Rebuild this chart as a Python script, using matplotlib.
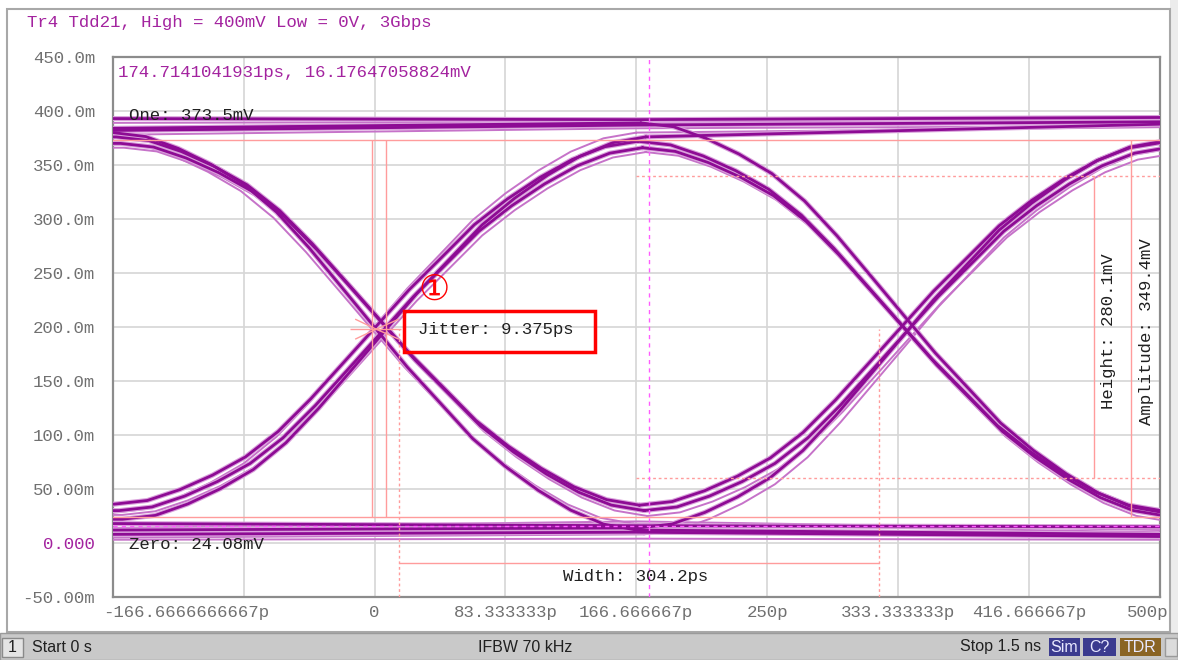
import matplotlib.pyplot as plt
import matplotlib.patches as mpatches
import matplotlib.transforms as mtransforms

# window in ps / mV
x_lo, x_hi = -166.667, 500.0
y_lo, y_hi = -50.0, 450.0

centers = [-166.667, 166.667, 500.0]    # bit centres shown on screen
crossings = [0.0, 333.333]              # UI = 333.3 ps (3 Gbps)

# rising edge shape: time from crossing (ps), fraction of swing
edge_t = [-166.7, -145.8, -125.0, -104.2, -83.3, -62.5, -41.7, -20.8, 0.0,
          20.8, 41.7, 62.5, 83.3, 104.2, 125.0, 145.8, 166.7]
edge_frac = [0.0, 0.01, 0.04, 0.08, 0.13, 0.20, 0.29, 0.39, 0.49,
             0.59, 0.68, 0.77, 0.84, 0.90, 0.95, 0.985, 1.0]

# traces: level (mV) at the three bit centres and crossing shift (ps)
dark_v0 = [393, 382, 384, 376, 370, 380, 36, 30, 22, 12, 8, 18]
dark_v1 = [392, 387, 389, 35, 30, 12, 372, 366, 376, 14, 10, 16]
dark_v2 = [394, 390, 28, 371, 366, 8, 30, 25, 388, 372, 6, 15]
dark_dt = [0, 1, 3, 2, 5, 0, 1, 4, 6, 2, -1, 3]

light_v0 = [389, 378, 366, 372, 26, 28, 5, 14, 3]
light_v1 = [390, 384, 25, 18, 362, 380, 8, 20, 4]
light_v2 = [392, 386, 360, 10, 20, 385, 365, 12, 3]
light_dt = [-1, 2, 7, -2, 6, 0, 5, 1, 2]

# measurement results
one_level, zero_level = 373.5, 24.08
height_hi, height_lo = 339.9, 59.8
jitter_l, jitter_r = -1.85, 7.5
width_l, width_r = 15.7, 321.0
cross_v = 198.0
marker_t, marker_v = 174.714, 16.176

xticks = [-166.667, -83.333, 0, 83.333, 166.667, 250, 333.333, 416.667, 500]
xlabels = ['-166.6666666667p', '', '0', '83.333333p', '166.666667p', '250p',
           '333.333333p', '416.666667p', '500p']
yticks = [450, 400, 350, 300, 250, 200, 150, 100, 50, 0, -50]
ylabels = ['450.0m', '400.0m', '350.0m', '300.0m', '250.0m', '200.0m', '150.0m',
           '100.0m', '50.00m', '0.000', '-50.00m']


def trace(levels, dt):
    ts, vs = [x_lo - 20], [levels[0]]
    for k in range(2):
        a, b = levels[k], levels[k + 1]
        if abs(b - a) > 150:
            for t, f in zip(edge_t, edge_frac):
                ts.append(crossings[k] + t + dt)
                vs.append(a + f * (b - a))
        else:
            ts += [centers[k] + dt, centers[k + 1] + dt]
            vs += [a, b]
    ts.append(x_hi + 20)
    vs.append(levels[2])
    return ts, vs


W, H = 1178, 660
fig = plt.figure(figsize=(W / 100, H / 100), dpi=100)
mono = 'Liberation Mono'
magenta = '#a3239f'
pink = '#ff9c9c'


def fx(px):
    return px / W


def fy(py):
    return 1 - py / H


# window frame and status bar
fig.add_artist(mpatches.Rectangle((fx(1170), fy(633)), fx(8), 633 / H,
                                  transform=fig.transFigure, color='#ececec', lw=0))
fig.add_artist(mpatches.Rectangle((fx(7), fy(632)), fx(1163), 623 / H, transform=fig.transFigure,
                                  fill=False, edgecolor='#a8a8a8', lw=1.5))
fig.add_artist(mpatches.Rectangle((0, 0), 1, 27 / H, transform=fig.transFigure,
                                  facecolor='#c9c9c9', edgecolor='#9a9a9a', lw=1))
fig.add_artist(mpatches.Rectangle((fx(2), fy(657)), fx(21), 19 / H, transform=fig.transFigure,
                                  facecolor='#e4e4e4', edgecolor='#8a8a8a', lw=1))
sb = dict(family='Liberation Sans', fontsize=11.5, color='#202020', va='center')
fig.text(fx(12.5), fy(647), '1', ha='center', **sb)
fig.text(fx(32), fy(647), 'Start 0 s', ha='left', **sb)
fig.text(fx(525), fy(647), 'IFBW 70 kHz', ha='center', **sb)
fig.text(fx(1041), fy(647), 'Stop 1.5 ns', ha='right', **sb)
for x0, x1, lab, col in [(1049, 1080, 'Sim', '#3b3b8f'), (1083, 1116, 'C?', '#3b3b8f'),
                         (1120, 1161, 'TDR', '#8a6424')]:
    fig.add_artist(mpatches.Rectangle((fx(x0), fy(656)), fx(x1 - x0), 18 / H,
                                      transform=fig.transFigure, color=col, lw=0))
    fig.text(fx((x0 + x1) / 2), fy(647), lab, ha='center', family='Liberation Sans',
             fontsize=11.5, color='#e8e8ff', va='center')
fig.add_artist(mpatches.Rectangle((fx(1165), fy(656)), fx(12), 18 / H,
                                  transform=fig.transFigure, facecolor='#dcdcdc',
                                  edgecolor='#9a9a9a', lw=1))

fig.text(fx(27), fy(22), 'Tr4 Tdd21, High = 400mV Low = 0V, 3Gbps', family=mono,
         fontsize=12.5, color=magenta, ha='left', va='center')

ax = fig.add_axes([fx(113), fy(597), fx(1159.5 - 113), 540 / H])
ax.set_xlim(x_lo, x_hi)
ax.set_ylim(y_lo, y_hi)
ax.set_xticks(xticks)
ax.set_xticklabels(xlabels)
ax.set_yticks(yticks)
ax.set_yticklabels(ylabels)
ax.tick_params(length=0, labelsize=12.5, labelcolor='#707070')
ax.tick_params(axis='x', pad=6)
ax.tick_params(axis='y', pad=13)
for lab in ax.get_xticklabels() + ax.get_yticklabels():
    lab.set_family(mono)
ax.get_yticklabels()[9].set_color(magenta)
xl = ax.get_xticklabels()
xl[0].set_ha('left')
xl[0].set_transform(xl[0].get_transform() + mtransforms.ScaledTranslation(-10 / 100, 0, fig.dpi_scale_trans))
xl[-1].set_ha('right')
xl[-1].set_transform(xl[-1].get_transform() + mtransforms.ScaledTranslation(8.5 / 100, 0, fig.dpi_scale_trans))
ax.grid(color='#d6d6d6', lw=1.2)
ax.set_axisbelow(True)
for s in ax.spines.values():
    s.set_color('#8c8c8c')
    s.set_linewidth(1.6)

# eye traces
for v0, v1, v2, dt in zip(light_v0, light_v1, light_v2, light_dt):
    ts, vs = trace([v0, v1, v2], dt)
    ax.plot(ts, vs, color='#c673c9', lw=1.4, zorder=3, solid_joinstyle='round')
for v0, v1, v2, dt in zip(dark_v0, dark_v1, dark_v2, dark_dt):
    ts, vs = trace([v0, v1, v2], dt)
    ax.plot(ts, vs, color='#d9a0db', lw=3.6, zorder=3, solid_joinstyle='round')
    ax.plot(ts, vs, color='#8d0b94', lw=2.0, zorder=4, solid_joinstyle='round')

# measurement overlays
ax.axhline(one_level, color=pink, lw=1, zorder=5)
ax.axhline(zero_level, color=pink, lw=1, zorder=5)
ax.vlines([jitter_l, jitter_r], zero_level, one_level, color=pink, lw=1, zorder=5)
ax.vlines([width_l, width_r], y_lo, cross_v, color=pink, lw=1, ls=(0, (2, 2)), zorder=5)
ax.hlines(-18.5, width_l, width_r, color=pink, lw=1, zorder=5)
ax.hlines([height_hi, height_lo], 166.667, x_hi, color=pink, lw=1, ls=(0, (2, 2)), zorder=5)
ax.vlines(458.3, height_lo, height_hi, color=pink, lw=1, zorder=5)
ax.vlines(482.1, zero_level, one_level, color=pink, lw=1, zorder=5)
ax.hlines(cross_v, -16, 17, color=pink, lw=1, zorder=5)
for dx, dy in [(14, 9), (14, -9), (-13, 9), (-13, -9)]:
    ax.plot([1, 1 + dx], [cross_v, cross_v + dy], color=pink, lw=1, zorder=5)
ax.axvline(marker_t, color='#ff5cff', lw=1, ls=(0, (3, 3)), zorder=6)
ax.axhline(marker_v, color='#ff5cff', lw=1, ls=(0, (3, 3)), zorder=6)

txt = dict(family=mono, fontsize=12.5, color='#202020', zorder=7)
ax.text(-163.5, 436, '174.7141041931ps, 16.17647058824mV', family=mono, fontsize=12.5,
        color=magenta, ha='left', va='center')
ax.text(-156.4, 396, 'One: 373.5mV', ha='left', va='center', **txt)
ax.text(-156.4, -1, 'Zero: 24.08mV', ha='left', va='center', **txt)
ax.text(166, -30.6, 'Width: 304.2ps', ha='center', va='center', **txt)
ax.text(467.2, 196, 'Height: 280.1mV', rotation=90, ha='center', va='center', **txt)
ax.text(491.8, 196, 'Amplitude: 349.4mV', rotation=90, ha='center', va='center', **txt)
ax.add_patch(mpatches.Rectangle((18.8, 177.1), 121.5, 37.7, fill=False,
                                edgecolor='#ff0000', lw=2.5, zorder=7))
ax.text(27.4, 198, 'Jitter: 9.375ps', ha='left', va='center', **txt)
ax.text(37.8, 235, '\u2460', family=['DejaVu Serif', 'DejaVu Sans'], fontsize=25,
        color='#ff0000', ha='center', va='center', zorder=7)

fig.savefig('out.png', dpi=100)
